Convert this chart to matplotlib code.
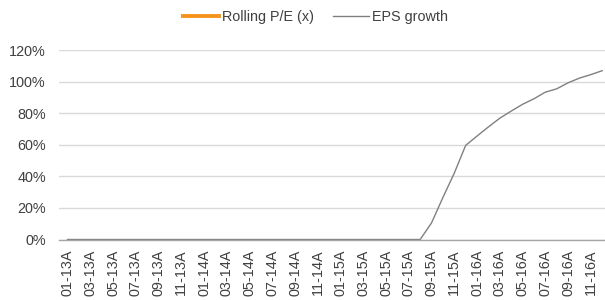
import numpy as np
import matplotlib.pyplot as plt

plt.rcParams['font.family'] = ['Liberation Sans', 'DejaVu Sans']

# monthly categories 01-13A .. 12-16A
months = [f'{m:02d}-{y}A' for y in (13, 14, 15, 16) for m in range(1, 13)]
eps_growth = [0.0] * 32 + [10.5, 26.6, 42.0, 59.6, 65.5, 71.3, 76.8, 81.3,
                           85.6, 89.1, 93.3, 95.4, 99.2, 102.2, 104.4, 106.9]
rolling_pe = [np.nan] * len(months)

fig = plt.figure(figsize=(6.05, 3.0), dpi=100)
ax = fig.add_axes([59 / 605, 1 - 239.5 / 300, 546 / 605, 189.5 / 300])

x = np.arange(len(months))
ax.plot(x, rolling_pe, color='#F7941D', lw=2.8, label='Rolling P/E (x)')
ax.plot(x, eps_growth, color='#808080', lw=1.0, label='EPS growth', zorder=2)

ax.set_xlim(-0.75, 47.25)
ax.set_ylim(0, 120)
ax.set_yticks(np.arange(0, 121, 20))
ax.set_yticklabels([f'{v}%' for v in range(0, 121, 20)])
ax.set_xticks(x[::2])
ax.set_xticklabels(months[::2], rotation=90)
ax.grid(axis='y', color='#d9d9d9', lw=1.0)
ax.set_axisbelow(True)
for s in ['top', 'right', 'left']:
    ax.spines[s].set_visible(False)
ax.spines['bottom'].set_color('#a6a6a6')
ax.spines['bottom'].set_linewidth(1.0)
ax.spines['bottom'].set_zorder(2.5)
ax.tick_params(axis='both', length=0, labelsize=10.4, colors='#404040')
ax.tick_params(axis='x', pad=7)
ax.tick_params(axis='y', pad=9.5)

fig.legend(loc='center', bbox_to_anchor=(0.521, 0.943), ncol=2, frameon=False,
           fontsize=10.4, handlelength=2.5, columnspacing=1.3, handletextpad=0.2,
           labelcolor='#404040')

fig.savefig('out.png')
